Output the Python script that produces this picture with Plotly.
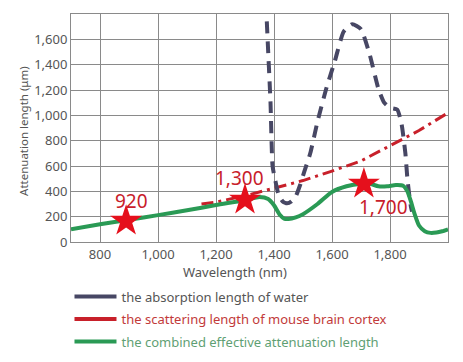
import plotly.graph_objects as go

# Water absorption length (gray dashed)
water_x = [1372, 1380, 1388, 1395, 1405, 1415, 1430, 1445, 1460, 1475, 1490, 1505, 1525, 1550,
           1580, 1610, 1640, 1670, 1700, 1730, 1760, 1780, 1800, 1825, 1840, 1853, 1860, 1866, 1872, 1876]
water_y = [1900, 1500, 1100, 600, 480, 380, 320, 305, 320, 360, 450, 560, 700, 950,
           1210, 1430, 1660, 1720, 1680, 1480, 1210, 1100, 1060, 1045, 930, 700, 500, 380, 280, 240]

# Scattering length of mouse brain cortex (red dash-dot)
scat_x = [1150, 1200, 1300, 1400, 1500, 1600, 1700, 1800, 1900, 2000]
scat_y = [300, 315, 365, 425, 485, 560, 640, 760, 880, 1020]

# Combined effective attenuation length (green)
comb_x = [700, 800, 900, 1000, 1100, 1200, 1300, 1350, 1380, 1400, 1420, 1435, 1450, 1475, 1500,
          1550, 1600, 1650, 1700, 1730, 1760, 1790, 1820, 1845, 1860, 1872, 1885, 1900, 1920,
          1940, 1960, 1980, 2000]
comb_y = [100, 140, 175, 212, 250, 292, 330, 355, 340, 290, 215, 185, 182, 195, 220,
          300, 395, 440, 460, 460, 440, 440, 450, 445, 400, 320, 220, 130, 85,
          72, 75, 85, 100]

# Highlighted wavelengths
star_x = [890, 1300, 1710]
star_y = [166, 333, 459]
star_labels = ["920", "1,300", "1,700"]
label_shift = [(5, 20), (-6, 22), (20, -23)]

legend_names = ["the absorption length of water",
                "the scattering length of mouse brain cortex",
                "the combined effective attenuation length"]

GRAY = "#474764"
RED = "#c8202a"
GREEN = "#2a9a55"

fig = go.Figure()
fig.add_trace(go.Scatter(x=scat_x, y=scat_y, mode="lines", showlegend=False,
                         line=dict(color=RED, width=3, dash="12px,5px,3px,5px")))
fig.add_trace(go.Scatter(x=water_x, y=water_y, mode="lines", showlegend=False,
                         line=dict(color=GRAY, width=4, dash="12px,8px", shape="spline", smoothing=0.5)))
fig.add_trace(go.Scatter(x=comb_x, y=comb_y, mode="lines", showlegend=False,
                         line=dict(color=GREEN, width=4, shape="spline", smoothing=0.6)))
fig.add_trace(go.Scatter(x=star_x, y=star_y, mode="markers", showlegend=False,
                         marker=dict(symbol="star", size=24, color="#e5101c", line=dict(width=0))))

for sx, sy, lab, (dx, dy) in zip(star_x, star_y, star_labels, label_shift):
    fig.add_annotation(x=sx, y=sy, text=lab, showarrow=False, xshift=dx, yshift=dy,
                       font=dict(color="#c8202a", size=19, family="Noto Sans"))

# legend entries with solid line samples
legend_colors = [GRAY, RED, GREEN]
legend_text_colors = ["#555555", "#c23a3a", "#5f9f74"]
for i, (name, c, tc) in enumerate(zip(legend_names, legend_colors, legend_text_colors)):
    fig.add_trace(go.Scatter(x=[None], y=[None], mode="lines", legendgroup=f"g{i}",
                             name=f'<span style="color:{tc}">{name}</span>',
                             line=dict(color=c, width=4)))

fig.add_annotation(text="Wavelength (nm)", xref="paper", yref="paper", x=0.435, y=-0.1316,
                   xanchor="center", yanchor="middle",
                   showarrow=False, font=dict(size=13, color="#555555"))
fig.add_annotation(text="Attenuation length (μm)", xref="paper", yref="paper", x=-0.1247, y=0.487,
                   xanchor="center", yanchor="middle",
                   textangle=-90, showarrow=False, font=dict(size=11.5, color="#555555"))

fig.update_layout(
    width=447, height=346,
    margin=dict(l=63, r=7, t=6, b=112, autoexpand=False),
    plot_bgcolor="white", paper_bgcolor="white",
    font=dict(family="Noto Sans", size=12, color="#555555"),
    legend=dict(x=-0.004, y=-0.174, xanchor="left", yanchor="top", itemwidth=42,
                font=dict(size=13), bgcolor="rgba(0,0,0,0)", tracegroupgap=2.5),
)
fig.update_xaxes(range=[700, 2000], tickvals=[800, 1000, 1200, 1400, 1600, 1800],
                 tickformat=",", showgrid=True, gridcolor="#8a8a8a", gridwidth=1,
                 showline=True, linecolor="#8a8a8a", mirror=True, ticks="",
                 tickfont=dict(size=13), zeroline=False, automargin=False)
fig.update_yaxes(range=[0, 1800], tickvals=[0, 200, 400, 600, 800, 1000, 1200, 1400, 1600],
                 tickformat=",", showgrid=True, gridcolor="#8a8a8a", gridwidth=1,
                 showline=True, linecolor="#8a8a8a", mirror=True, ticks="",
                 tickfont=dict(size=13), zeroline=False, automargin=False)

fig.write_html("out.html")
